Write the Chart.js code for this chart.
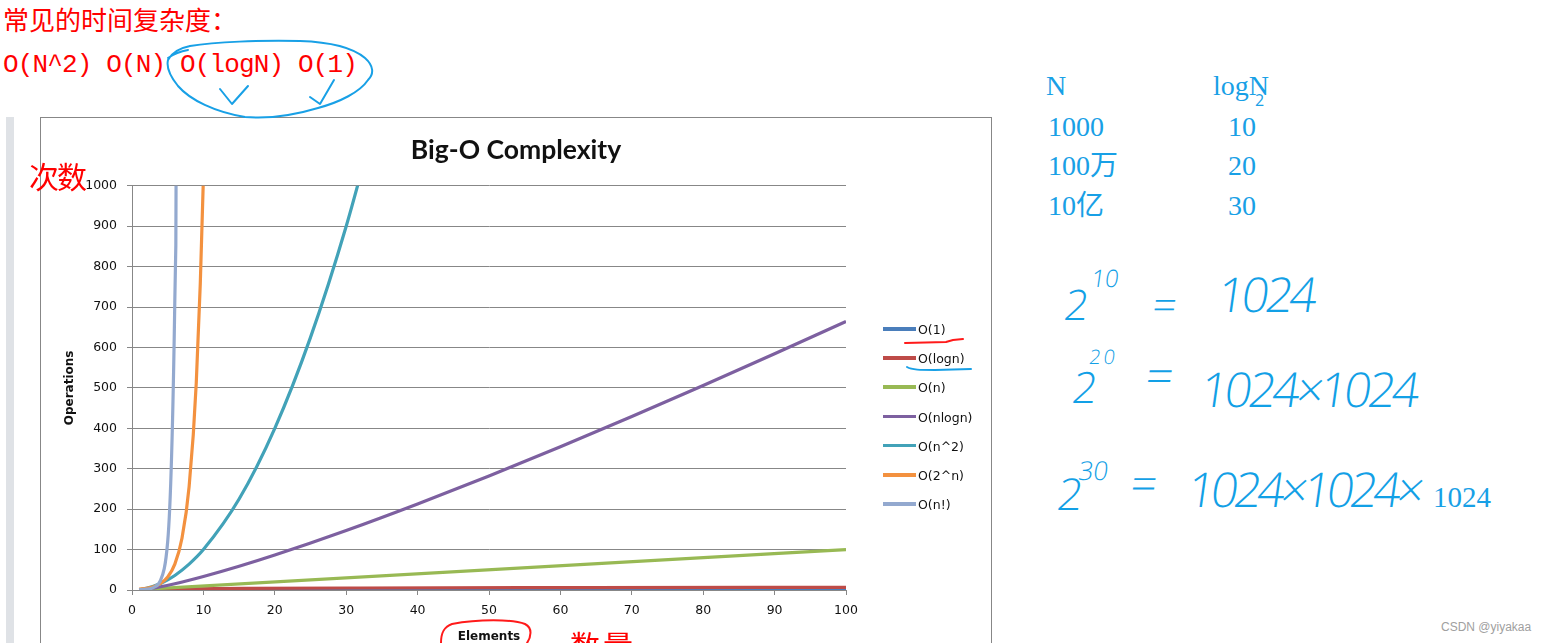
<!DOCTYPE html>
<html>
<head>
<meta charset="utf-8">
<script src="https://cdn.jsdelivr.net/npm/chart.js@4.4.1/dist/chart.umd.min.js"></script>
<style>
  html, body { margin: 0; padding: 0; background: #fff; }
  body { width: 1545px; height: 643px; overflow: hidden; position: relative; }
  .abs { position: absolute; white-space: nowrap; line-height: 1; }
  .red { color: #ff0000; }
  .blue { color: #18a0e6; }
  .cjk { font-family: "Noto Sans CJK SC", sans-serif; }
  .serif { font-family: "Liberation Serif", "Noto Sans CJK SC", serif; font-size: 28px; }
  .hw { position: absolute; white-space: nowrap; line-height: 1; font-family: "Open Sans", sans-serif;
        font-weight: 300; color: #12a0e6; transform: skewX(-8deg); transform-origin: left bottom; }
  #frame { position: absolute; left: 40px; top: 117px; width: 950px; height: 540px; border: 1px solid #878787; }
  #frame canvas { display: block; }
  #strip { position: absolute; left: 6px; top: 117px; width: 8px; height: 526px; background: #dfe2e6; }
  .lg { position: absolute; left: 883px; height: 16px; font-family: "DejaVu Sans", sans-serif; font-size: 12.5px; color: #111; }
  .lg i { position: absolute; left: 0; top: 6px; width: 33px; height: 3.5px; }
  .lg span { position: absolute; left: 35px; top: 1px; white-space: nowrap; }
  svg { position: absolute; left: 0; top: 0; }
</style>
</head>
<body>
<div id="strip"></div>
<div id="frame"><canvas id="chart" width="950" height="525"></canvas></div>
<div id="legend"></div>

<div class="abs red cjk" style="left:3px;top:6px;font-size:26px;">常见的时间复杂度：</div>
<div class="abs red" style="left:3px;top:52px;font-family:'Liberation Mono',monospace;font-size:26px;letter-spacing:-0.85px;">O(N^2) O(N) O(logN) O(1)</div>
<div class="abs red cjk" style="left:29px;top:160px;font-size:30px;letter-spacing:-2px;">次数</div>
<div class="abs red cjk" style="left:570px;top:629px;font-size:30px;letter-spacing:3px;">数量</div>

<div class="abs blue serif" style="left:1046px;top:71.5px;">N</div>
<div class="abs blue serif" style="left:1213px;top:71.5px;">logN</div>
<div class="abs blue" style="left:1255px;top:92px;font-family:'Open Sans';font-size:16px;">2</div>
<div class="abs blue serif" style="left:1048px;top:112.5px;">1000</div>
<div class="abs blue serif" style="left:1228px;top:112.5px;">10</div>
<div class="abs blue serif" style="left:1048px;top:151.5px;">100万</div>
<div class="abs blue serif" style="left:1228px;top:151.5px;">20</div>
<div class="abs blue serif" style="left:1048px;top:191.5px;">10亿</div>
<div class="abs blue serif" style="left:1228px;top:191.5px;">30</div>

<div class="hw" style="left:1062px;top:283px;font-size:42px;">2</div>
<div class="hw" style="left:1090px;top:266px;font-size:24px;">10</div>
<div class="hw" style="left:1150px;top:283px;font-size:42px;">=</div>
<div class="hw" style="left:1215px;top:270px;font-size:48px;letter-spacing:-3.5px;">1024</div>

<div class="hw" style="left:1070px;top:365px;font-size:43px;">2</div>
<div class="hw" style="left:1088px;top:347px;font-size:20px;letter-spacing:3px;">20</div>
<div class="hw" style="left:1143px;top:351px;font-size:48px;">=</div>
<div class="hw" style="left:1198px;top:365px;font-size:48px;letter-spacing:-3.5px;">1024×1024</div>

<div class="hw" style="left:1055px;top:471px;font-size:44px;">2</div>
<div class="hw" style="left:1077px;top:457px;font-size:26px;">30</div>
<div class="hw" style="left:1128px;top:459px;font-size:46px;">=</div>
<div class="hw" style="left:1185px;top:465px;font-size:48px;letter-spacing:-4.2px;">1024×1024×</div>
<div class="abs blue" style="left:1433px;top:483px;font-family:'Liberation Serif',serif;font-size:29px;">1024</div>

<div class="abs" style="left:1441px;top:621px;font-family:'Liberation Sans',sans-serif;font-size:12px;color:#a0a0a0;">CSDN @yiyakaa</div>

<svg width="1545" height="643" viewBox="0 0 1545 643">
  <g fill="none" stroke-linecap="round" stroke-linejoin="round">
    <path d="M168 60 C172 52 180 48 190 46 C215 42 260 40 300 41 C330 42 352 47 365 58 C374 66 374 74 368 80 C360 92 340 102 318 108 C295 115 270 119 245 117 C215 112 190 100 178 86 C170 76 166 68 168 60 M168 58 C175 53 182 51 188 50" stroke="#18a0e6" stroke-width="2"/>
    <path d="M220 89 L232 104 L248 86" stroke="#18a0e6" stroke-width="2"/>
    <path d="M310 97 L320 104 L334 80" stroke="#18a0e6" stroke-width="2"/>
    <path d="M905 343 L946 342 L953 340 L963 339" stroke="#ff1a1a" stroke-width="2"/>
    <path d="M907 367 C912 370 920 370 935 370 L971 369" stroke="#18a0e6" stroke-width="2"/>
    <path d="M441 643 C441 634 443 627 452 624 C478 619 512 619 525 624 C533 628 531 637 527 643" stroke="#ff1a1a" stroke-width="2"/>
  </g>
</svg>

<script>
// Big-O curves, values (x = elements, y = operations)
const seriesNames  = ['O(1)', 'O(logn)', 'O(n)', 'O(nlogn)', 'O(n^2)', 'O(2^n)', 'O(n!)'];
const seriesColors = ['#4a7ebb', '#be4b48', '#98b954', '#7d60a0', '#42a2b8', '#f3913f', '#93a9cf'];

const constantN   = [1, 100];
const constantOps = [1, 1];
const logN        = [1, 2, 4, 8, 16, 32, 64, 100];
const logOps      = [0, 1, 2, 3, 4, 5, 6, 6.64];
const linearN     = [1, 100];
const linearOps   = [1, 100];
const nlognN      = [1, 2, 4, 6, 8, 10, 15, 20, 30, 40, 50, 60, 70, 80, 90, 100];
const nlognOps    = [0, 2, 8, 15.5, 24, 33.2, 58.6, 86.4, 147.2, 212.9, 282.2, 354.4, 429, 505.8, 584.3, 664.4];
const squareN     = [1, 2, 4, 6, 8, 10, 15, 20, 25, 30, 35];
const squareOps   = [1, 4, 16, 36, 64, 100, 225, 400, 625, 900, 1225];
const expN        = [1, 2, 3, 4, 5, 6, 7, 8, 9, 10, 11];
const expOps      = [2, 4, 8, 16, 32, 64, 128, 256, 512, 1024, 2048];
const factN       = [1, 2, 3, 4, 5, 6, 7, 8];
const factOps     = [1, 2, 6, 24, 120, 720, 5040, 40320];

const seriesX = [constantN, logN, linearN, nlognN, squareN, expN, factN];
const seriesY = [constantOps, logOps, linearOps, nlognOps, squareOps, expOps, factOps];

const xTicks = { min: 0, max: 100, step: 10 };
const yTicks = { min: 0, max: 1000, step: 100 };

const zip = (xs, ys) => xs.map((x, i) => ({ x, y: ys[i] }));
const gridGray = '#878787';

Chart.defaults.font.family = 'DejaVu Sans';
Chart.defaults.color = '#111';

new Chart(document.getElementById('chart'), {
  type: 'line',
  data: {
    datasets: seriesNames.map((name, i) => ({
      label: name,
      data: zip(seriesX[i], seriesY[i]),
      borderColor: seriesColors[i],
      borderWidth: 3.2,
      pointRadius: 0,
      cubicInterpolationMode: 'monotone',
      order: seriesNames.length - i,   // later series drawn on top, like Excel
    })),
  },
  options: {
    responsive: false,
    devicePixelRatio: 1,
    animation: false,
    plugins: {
      legend: { display: false },
      tooltip: { enabled: false },
      title: {
        display: true,
        text: 'Big-O Complexity',
        color: '#111',
        font: { family: 'Lato', size: 26.5, weight: 'bold' },
        padding: { top: 17, bottom: 19 },
      },
    },
    scales: {
      x: {
        type: 'linear',
        min: xTicks.min, max: xTicks.max,
        afterFit: (scale) => { scale.height = 53; },
        ticks: { stepSize: xTicks.step, padding: 8, font: { size: 12.5 }, color: '#111' },
        grid: { drawOnChartArea: false, drawTicks: true, tickLength: 5, color: gridGray },
        border: { color: gridGray },
        title: {
          display: true, text: 'Elements', color: '#111',
          font: { size: 12, weight: 'bold', lineHeight: 1 },
          padding: { top: 0, bottom: 0 },
        },
      },
      y: {
        min: yTicks.min, max: yTicks.max,
        afterFit: (scale) => { scale.width = 91; },
        ticks: { stepSize: yTicks.step, padding: 10, font: { size: 12.5 }, color: '#111',
                 callback: (value) => String(value) },
        grid: { color: gridGray, tickLength: 5 },
        border: { color: gridGray },
        title: {
          display: true, text: 'Operations', color: '#111',
          font: { size: 12, weight: 'bold' },
          padding: { top: 22, bottom: 0 },
        },
      },
      // empty right-hand axis that only reserves the room where the legend sits
      legendRoom: {
        type: 'linear',
        position: 'right',
        afterFit: (scale) => { scale.width = 145; },
        ticks: { display: false },
        grid: { display: false },
        border: { display: false },
      },
    },
  },
});

// legend on the right, Excel style
const legend = document.getElementById('legend');
seriesNames.forEach((name, i) => {
  const item = document.createElement('div');
  item.className = 'lg';
  item.style.top = (321 + i * 29.2) + 'px';
  item.innerHTML = '<i style="background:' + seriesColors[i] + '"></i><span>' + name + '</span>';
  legend.appendChild(item);
});
</script>
</body>
</html>
